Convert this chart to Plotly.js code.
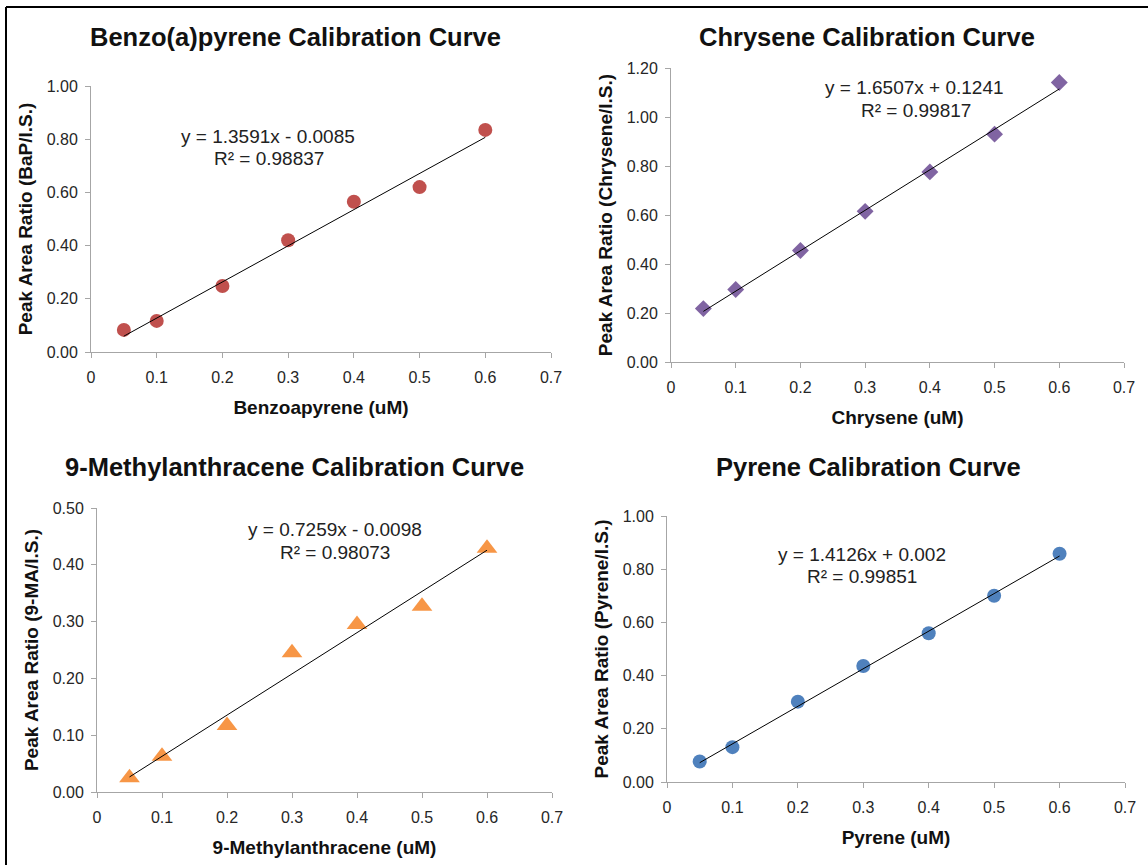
<!DOCTYPE html>
<html>
<head>
<meta charset="utf-8">
<script src="https://cdn.plot.ly/plotly-3.0.1.min.js"></script>
<style>
  html, body { margin: 0; padding: 0; background: #ffffff; }
  #chart { width: 1148px; height: 865px; }
</style>
</head>
<body>
<div id="chart"></div>
<script>
// ---- Data ----
const concentrations = [0.05, 0.1, 0.2, 0.3, 0.4, 0.5, 0.6];

const bapRatio      = [0.083, 0.117, 0.248, 0.42, 0.565, 0.62, 0.835];
const chryseneRatio = [0.218, 0.296, 0.455, 0.615, 0.776, 0.93, 1.141];
const maRatio       = [0.025, 0.063, 0.117, 0.245, 0.295, 0.327, 0.429];
const pyreneRatio   = [0.077, 0.131, 0.302, 0.436, 0.559, 0.70, 0.858];

// trendline end points (x from 0.05 to 0.6, y from the fitted equations shown)
const trendX        = [0.05, 0.6];
const bapTrend      = [0.0595, 0.807];
const chryseneTrend = [0.2066, 1.1145];
const maTrend       = [0.0265, 0.4257];
const pyreneTrend   = [0.0726, 0.8496];

const chartTitles = [
  "Benzo(a)pyrene Calibration Curve",
  "Chrysene Calibration Curve",
  "9-Methylanthracene Calibration Curve",
  "Pyrene Calibration Curve"
];
const xTitles = ["Benzoapyrene (uM)", "Chrysene (uM)", "9-Methylanthracene (uM)", "Pyrene (uM)"];
const yTitles = ["Peak Area Ratio (BaP/I.S.)", "Peak Area Ratio (Chrysene/I.S.)",
                 "Peak Area Ratio (9-MA/I.S.)", "Peak Area Ratio (Pyrene/I.S.)"];
const equations = ["y = 1.3591x - 0.0085", "y = 1.6507x + 0.1241", "y = 0.7259x - 0.0098", "y = 1.4126x + 0.002"];
const rSquared  = ["R² = 0.98837", "R² = 0.99817", "R² = 0.98073", "R² = 0.99851"];

// ---- Layout helpers ----
const W = 1148, H = 865;
const FONT = "Liberation Sans, Arial, Helvetica, sans-serif";
const px = x => x / W;
const py = y => 1 - y / H;

// plot areas in pixels: [left, right, top, bottom]
const boxes = [
  [91, 551, 86, 352],
  [671, 1124, 68, 362],
  [97, 552, 508, 792],
  [667, 1125, 516, 782]
];
const yRanges = [[0, 1], [0, 1.2], [0, 0.5], [0, 1]];
const yDtick  = [0.2, 0.2, 0.1, 0.2];

const seriesY   = [bapRatio, chryseneRatio, maRatio, pyreneRatio];
const trendY    = [bapTrend, chryseneTrend, maTrend, pyreneTrend];
const colors    = ["#c0504d", "#8064a2", "#f79646", "#4f81bd"];
const symbols   = ["circle", "diamond", "triangle-up", "circle"];
const sizes     = [14, 13, 18, 14];

const titlePos = [[295, 37], [867, 37], [294, 467], [868, 467]];
const eqPos    = [[[268, 136], [269, 158]], [[915, 87], [916, 110]],
                  [[335, 529], [335, 552]], [[862, 554], [862, 576]]];

const traces = [];
const layout = {
  width: W, height: H,
  margin: {l: 0, r: 0, t: 0, b: 0},
  paper_bgcolor: "#ffffff",
  plot_bgcolor: "#ffffff",
  showlegend: false,
  font: {family: FONT, color: "#222222"},
  annotations: [],
  shapes: [
    {type: "line", xref: "paper", yref: "paper", x0: px(6), x1: 1, y0: py(7), y1: py(7),
     line: {color: "#000000", width: 2}},
    {type: "line", xref: "paper", yref: "paper", x0: px(6), x1: px(6), y0: py(7), y1: 0,
     line: {color: "#000000", width: 2}}
  ]
};

for (let i = 0; i < 4; i++) {
  const n = i === 0 ? "" : String(i + 1);
  const xa = "x" + n, ya = "y" + n;
  const b = boxes[i];

  traces.push({
    type: "scatter", mode: "markers", xaxis: xa, yaxis: ya,
    x: concentrations, y: seriesY[i],
    marker: {symbol: symbols[i], size: sizes[i], color: colors[i], line: {width: 0}},
    hoverinfo: "x+y"
  });
  traces.push({
    type: "scatter", mode: "lines", xaxis: xa, yaxis: ya,
    x: trendX, y: trendY[i],
    line: {color: "#000000", width: 1},
    hoverinfo: "skip"
  });

  layout["xaxis" + n] = {
    domain: [px(b[0]), px(b[1])],
    anchor: ya,
    range: [0, 0.7],
    dtick: 0.1, tick0: 0,
    showgrid: false, zeroline: false,
    showline: true, linecolor: "#a6a6a6", linewidth: 1,
    ticks: "outside", ticklen: 5, tickcolor: "#a6a6a6", tickwidth: 1,
    ticklabelstandoff: 6,
    tickfont: {family: FONT, size: 16, color: "#262626"},
    title: {text: "<b>" + xTitles[i] + "</b>", standoff: 15,
            font: {family: FONT, size: 19, color: "#111111"}},
    fixedrange: true
  };
  layout["yaxis" + n] = {
    domain: [py(b[3]), py(b[2])],
    anchor: xa,
    range: yRanges[i],
    dtick: yDtick[i], tick0: 0,
    tickformat: ".2f",
    showgrid: false, zeroline: false,
    showline: true, linecolor: "#a6a6a6", linewidth: 1,
    ticks: "outside", ticklen: 5, tickcolor: "#a6a6a6", tickwidth: 1,
    ticklabelstandoff: 4,
    tickfont: {family: FONT, size: 16, color: "#262626"},
    title: {text: "<b>" + yTitles[i] + "</b>", standoff: 9,
            font: {family: FONT, size: 19, color: "#111111"}},
    fixedrange: true
  };

  layout.annotations.push({
    xref: "paper", yref: "paper", x: px(titlePos[i][0]), y: py(titlePos[i][1]),
    xanchor: "center", yanchor: "middle", showarrow: false,
    text: "<b>" + chartTitles[i] + "</b>",
    font: {family: FONT, size: 25.5, color: "#111111"}
  });
  layout.annotations.push({
    xref: "paper", yref: "paper", x: px(eqPos[i][0][0]), y: py(eqPos[i][0][1]),
    xanchor: "center", yanchor: "middle", showarrow: false,
    text: equations[i],
    font: {family: FONT, size: 19, color: "#222222"}
  });
  layout.annotations.push({
    xref: "paper", yref: "paper", x: px(eqPos[i][1][0]), y: py(eqPos[i][1][1]),
    xanchor: "center", yanchor: "middle", showarrow: false,
    text: rSquared[i],
    font: {family: FONT, size: 19, color: "#222222"}
  });
}

Plotly.newPlot("chart", traces, layout, {displayModeBar: false, responsive: false});
</script>
</body>
</html>
